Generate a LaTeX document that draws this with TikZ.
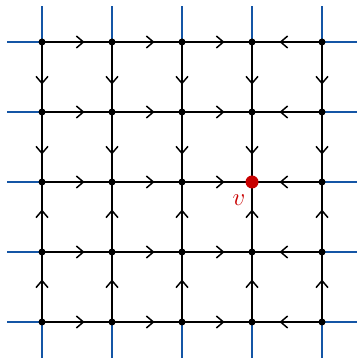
\documentclass[tikz,border=0pt]{standalone}
\usetikzlibrary{arrows.meta,decorations.markings,backgrounds}
\definecolor{gridblue}{RGB}{20,85,165}
\definecolor{vred}{RGB}{200,0,0}
\begin{document}
\begin{tikzpicture}[x=1pt,y=1pt,
  vert/.style={circle,fill=black,inner sep=0pt,minimum size=7pt},
  spec/.style={circle,fill=vred,inner sep=0pt,minimum size=13pt},
  flow/.style={line width=1.5pt,postaction=decorate,
    decoration={markings,mark=at position 0.5 with
      {\arrow[xshift=7.5pt]{Straight Barb[length=7pt,width=12pt,line width=1.5pt]}}}},
  ext/.style={gridblue,line width=1.2pt}]
\useasboundingbox (0,0) rectangle (357,358);
% vertices
\foreach \i in {0,...,4}{
  \foreach \j in {0,...,4}{
    \pgfmathsetmacro{\xx}{42+70*\i}
    \pgfmathsetmacro{\yy}{316-70*\j}
    \ifnum\i=3 \ifnum\j=2 \node[spec] (n-\i-\j) at (\xx,\yy) {}; \else \node[vert] (n-\i-\j) at (\xx,\yy) {}; \fi
    \else \node[vert] (n-\i-\j) at (\xx,\yy) {}; \fi
  }
}
% outer blue stubs
\foreach \k in {0,...,4}{
  \pgfmathsetmacro{\pp}{42+70*\k}
  \pgfmathsetmacro{\qq}{316-70*\k}
  \coordinate (t-\k) at (\pp,352);
  \coordinate (b-\k) at (\pp,0);
  \coordinate (l-\k) at (7,\qq);
  \coordinate (r-\k) at (357,\qq);
}
\begin{scope}[on background layer]
\foreach \k in {0,...,4}{
  \draw[ext] (n-\k-0.center) -- (t-\k);
  \draw[ext] (n-\k-4.center) -- (b-\k);
  \draw[ext] (n-0-\k.center) -- (l-\k);
  \draw[ext] (n-4-\k.center) -- (r-\k);
}
% horizontal edges
\foreach \j in {0,...,4}{
  \draw[flow] (n-0-\j.center) -- (n-1-\j.center);
  \draw[flow] (n-1-\j.center) -- (n-2-\j.center);
  \draw[flow] (n-2-\j.center) -- (n-3-\j.center);
  \draw[flow] (n-4-\j.center) -- (n-3-\j.center);
}
% vertical edges
\foreach \i in {0,...,4}{
  \draw[flow] (n-\i-0.center) -- (n-\i-1.center);
  \draw[flow] (n-\i-1.center) -- (n-\i-2.center);
  \draw[flow] (n-\i-3.center) -- (n-\i-2.center);
  \draw[flow] (n-\i-4.center) -- (n-\i-3.center);
}
\end{scope}
\node[text=vred,font=\fontsize{30}{30}\selectfont] (vlab) at (239,158) {$v$};
\end{tikzpicture}
\end{document}
